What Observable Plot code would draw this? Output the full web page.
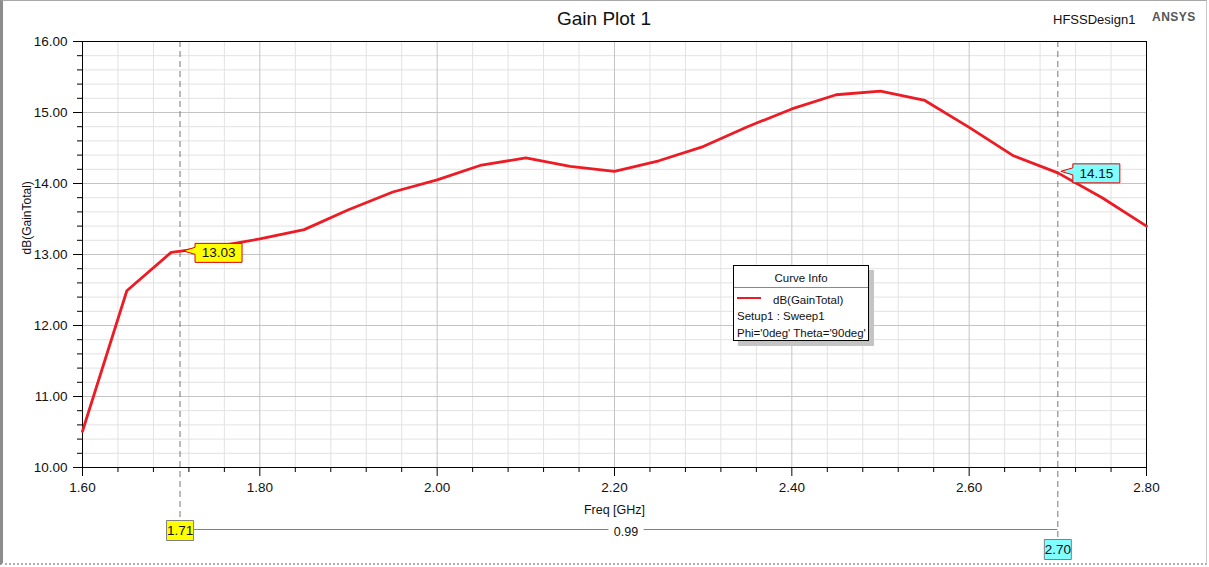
<!DOCTYPE html>
<html>
<head>
<meta charset="utf-8">
<script src="https://cdn.jsdelivr.net/npm/d3@7"></script>
<script src="https://cdn.jsdelivr.net/npm/@observablehq/plot@0.6"></script>
<style>
  html, body { margin: 0; padding: 0; background: #fff; overflow: hidden; }
  #wrap { position: relative; width: 1209px; height: 567px; font-family: "Liberation Sans", Arial, sans-serif; }
  #wrap svg { position: absolute; left: 0; top: 0; }
  .abs { position: absolute; white-space: nowrap; color: #111; }
  #frameWin { position: absolute; left: 0; top: 0; width: 1203px; height: 562px;
    border-left: 3px solid #8c8c8c; border-top: 1px solid #a8a8a8; border-right: 1px solid #c8c8c8; border-bottom: 2px dotted #b0b0b0; pointer-events: none; }
  #legend { position: absolute; left: 733px; top: 265px; width: 134px; height: 74px; border: 1px solid #000;
    background: #fff; box-shadow: 5px 5px 0 #c4c4c4; font-size: 11.5px; }
  #legend div { position: absolute; line-height: 14px; white-space: nowrap; color: #111; }
</style>
</head>
<body>
<div id="wrap">
  <div id="chart"></div>
  <div class="abs" style="left:504px; width:200px; text-align:center; top:7px; font-size:19px; line-height:24px;">Gain Plot 1</div>
  <div class="abs" style="left:1053px; top:10.5px; font-size:13px; line-height:18px;">HFSSDesign1</div>
  <div class="abs" style="left:1152px; top:8.5px; font-size:12px; line-height:16px; font-weight:bold; letter-spacing:0.5px; color:#555;">ANSYS</div>
  <div id="legend">
    <div style="left:0; width:134px; text-align:center; top:5px;">Curve Info</div>
    <div style="left:0; width:134px; top:21px; height:0; border-top:1px solid #888;"></div>
    <div style="left:3px; width:24px; top:31px; height:0; border-top:2px solid #ed1c24;"></div>
    <div style="left:39px; top:27px;">dB(GainTotal)</div>
    <div style="left:3px; top:43px;">Setup1 : Sweep1</div>
    <div style="left:3px; top:60px;">Phi='0deg' Theta='90deg'</div>
  </div>
  <div id="frameWin"></div>
</div>
<script>
// ---- data ----
const freq = [1.60, 1.65, 1.70, 1.75, 1.80, 1.85, 1.90, 1.95, 2.00, 2.05, 2.10, 2.15, 2.20,
              2.25, 2.30, 2.35, 2.40, 2.45, 2.50, 2.55, 2.60, 2.65, 2.70, 2.75, 2.80];
const gain = [10.51, 12.49, 13.03, 13.11, 13.22, 13.35, 13.63, 13.88, 14.05, 14.26, 14.36, 14.24, 14.17,
              14.32, 14.52, 14.80, 15.05, 15.25, 15.30, 15.17, 14.79, 14.39, 14.15, 13.80, 13.40];
const xMajorTicks = [1.60, 1.80, 2.00, 2.20, 2.40, 2.60, 2.80];
const yMajorTicks = [10, 11, 12, 13, 14, 15, 16];
const markerFreq = [1.71, 2.70];
const markerGain = [13.03, 14.15];
const markerFill = ["#ffff00", "#80ffff"];
const xLabel = "Freq [GHz]";
const yLabel = "dB(GainTotal)";

// minor tick positions
const xMinorTicks = d3.range(0, 31).map(i => +(1.6 + i * 0.04).toFixed(2)).filter(v => !xMajorTicks.some(t => Math.abs(t - v) < 1e-9));
const yMinorTicks = d3.range(0, 31).map(i => +(10 + i * 0.2).toFixed(1)).filter(v => !yMajorTicks.includes(v));

const rows = freq.map((f, i) => ({f, g: gain[i]}));
const markers = markerFreq.map((f, i) => ({f, g: markerGain[i], fill: markerFill[i]}));
const delta = (markerFreq[1] - markerFreq[0]).toFixed(2);

const callout = {draw(ctx) {
  ctx.moveTo(3, -1.5); ctx.lineTo(15, -5); ctx.lineTo(15, -9); ctx.lineTo(62, -9);
  ctx.lineTo(62, 10); ctx.lineTo(15, 10); ctx.lineTo(15, 2); ctx.closePath();
}};
const box = {draw(ctx) { ctx.rect(-13.5, -10, 27, 20); }};

const font = "'Liberation Sans', Arial, sans-serif";
const bottomDy = [63, 82];
const ruleInset = [-53, -72];

const marks = [
  Plot.gridX(xMinorTicks, {stroke: "#e2e2e2", strokeOpacity: 1}),
  Plot.gridY(yMinorTicks, {stroke: "#e2e2e2", strokeOpacity: 1}),
  Plot.gridX(xMajorTicks, {stroke: "#c4c4c4", strokeOpacity: 1}),
  Plot.gridY(yMajorTicks, {stroke: "#c4c4c4", strokeOpacity: 1}),
];
markers.forEach((m, i) => {
  marks.push(Plot.ruleX([m], {x: "f", stroke: "#777", strokeDasharray: "6,4", insetBottom: ruleInset[i]}));
});
marks.push(
  Plot.frame({stroke: "#000"}),
  Plot.line(rows, {x: "f", y: "g", stroke: "#ed1c24", strokeWidth: 2.8}),
  Plot.axisY({ticks: yMinorTicks, tickSize: 5, tickFormat: () => "", label: null, stroke: "#000"}),
  Plot.axisY({ticks: yMajorTicks, tickSize: 9, tickPadding: 6, tickFormat: d => d.toFixed(2), label: null, fontSize: 13.5, fill: "#111", stroke: "#000"}),
  Plot.axisX({ticks: xMinorTicks, tickSize: 5, tickFormat: () => "", label: null, stroke: "#000"}),
  Plot.axisX({ticks: xMajorTicks, tickSize: 9, tickPadding: 6, tickFormat: d => d.toFixed(2), label: null, fontSize: 13.5, fill: "#111", stroke: "#000"}),
  Plot.text([xLabel], {frameAnchor: "bottom", lineAnchor: "middle", dy: 42, text: d => d, fontSize: 12.5, fill: "#111"}),
  Plot.text([yLabel], {frameAnchor: "left", lineAnchor: "middle", dx: -55, rotate: -90, text: d => d, fontSize: 12, fill: "#111"}),
  // delta line and label
  Plot.ruleY([{y: 10, x1: markerFreq[0], x2: markerFreq[1]}], {y: "y", x1: "x1", x2: "x2", dy: 62, stroke: "#808080"}),
  Plot.text([{x: (markerFreq[0] + markerFreq[1]) / 2}], {x: "x", frameAnchor: "bottom", lineAnchor: "middle", dx: 7, dy: 64, text: () => delta,
    fontSize: 12.5, fill: "#111", stroke: "#fff", strokeWidth: 12})
);
markers.forEach((m, i) => {
  marks.push(
    Plot.dot([m], {x: "f", y: "g", symbol: callout, r: 5, fill: m.fill, stroke: "#e00000", strokeWidth: 1}),
    Plot.text([m], {x: "f", y: "g", dx: 38.5, dy: 0.5, text: d => d.g.toFixed(2), fontSize: 13.5, fill: "#111"}),
    Plot.dot([m], {x: "f", frameAnchor: "bottom", dy: bottomDy[i], symbol: box, r: 5, fill: m.fill, stroke: "#808080", strokeWidth: 1}),
    Plot.text([m], {x: "f", frameAnchor: "bottom", lineAnchor: "middle", dy: bottomDy[i] + 0.5, text: d => d.f.toFixed(2), fontSize: 13.5, fill: "#111"})
  );
});

const chart = Plot.plot({
  width: 1209,
  height: 567,
  marginLeft: 82,
  marginRight: 63,
  marginTop: 41,
  marginBottom: 100,
  x: {domain: [1.6, 2.8]},
  y: {domain: [10, 16]},
  style: {fontFamily: font, background: "#fff", color: "#111", overflow: "visible"},
  marks
});
document.getElementById("chart").appendChild(chart);
</script>
</body>
</html>
